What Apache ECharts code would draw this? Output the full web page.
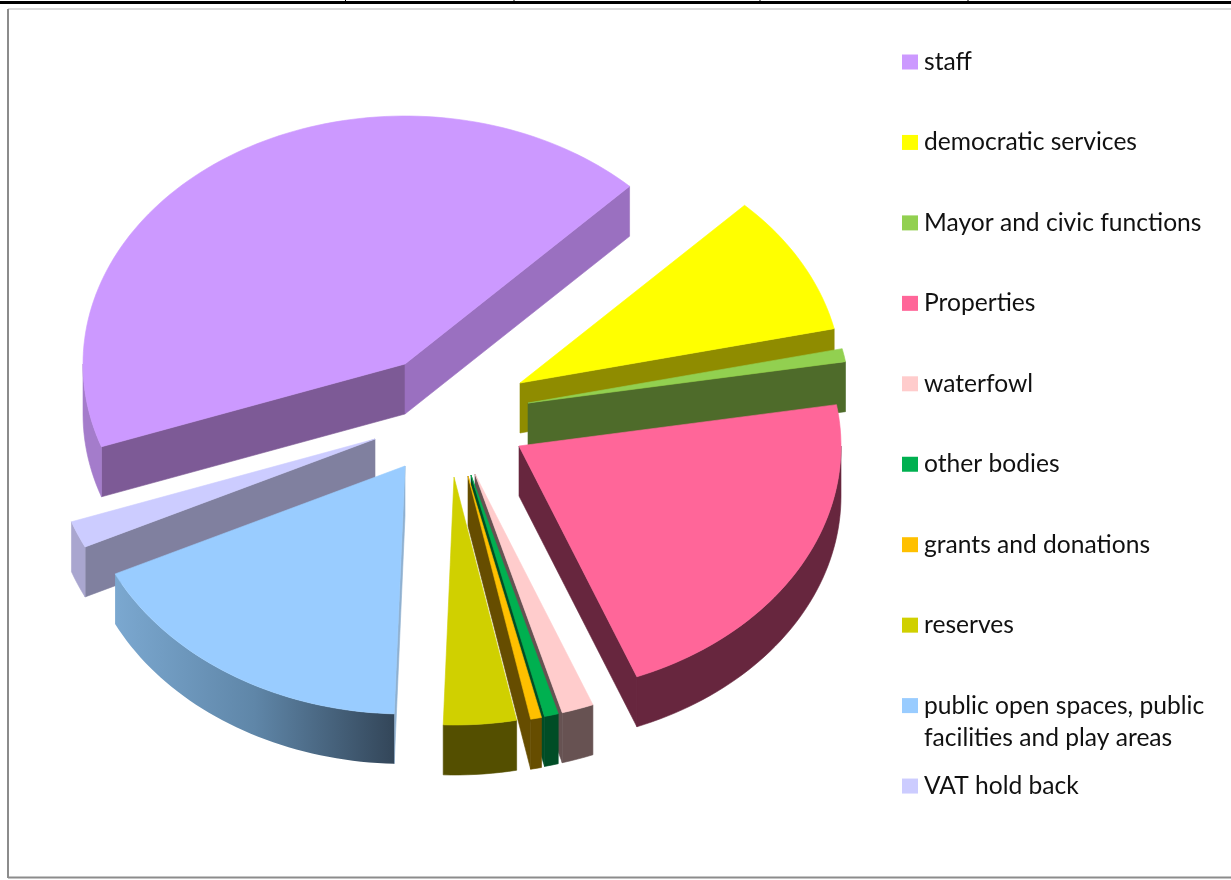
<!DOCTYPE html>
<html>
<head>
<meta charset="utf-8">
<style>html,body{margin:0;padding:0;background:#fff}#c{width:1231px;height:880px}</style>
<script src="https://cdn.jsdelivr.net/npm/echarts@6/dist/echarts.min.js"></script>
</head>
<body>
<div id="c"></div>
<script>
// Chart data (percent share of the budget)
const categories = ['staff','democratic services','Mayor and civic functions','Properties','waterfowl','other bodies','grants and donations','reserves','public open spaces, public\nfacilities and play areas','VAT hold back'];
const values = [42.7, 9.2, 0.85, 21.7, 1.6, 0.7, 0.55, 3.65, 17.3, 1.75];

// Styles
const topColors = ['#cc99ff','#ffff00','#92d050','#ff6699','#ffcccc','#00b050','#ffc000','#d0d000','#99ccff','#ccccff'];
const startWall = ['#7d5a96','#8f8c00','#4e6b2a','#67263e','#675252','#004d26','#664d00','#544f00','#8fb0d0','#80809f'];
const endWall   = ['#9a70c0','#8f8c00','#4e6b2a','#67263e','#675252','#004d26','#664d00','#544f00','#6f93b4','#80809f'];
const arcWall   = ['#a47ccb','#8f8c00','#4e6b2a','#67263e','#675252','#004d26','#664d00','#544f00','#5a7d9e','#a9a6cf'];
// Where each exploded slice's tip sits, and the pie's projection
const tips = [[405,364],[520,383],[528,403],[519,446],[475,474],[471,475],[468,476],[454,477],[405,466],[375,439]];
const paintZ = [1,2,3,4,5,6,7,8,10,9];
const RX = 322, RY = 248, DEPTH = 50, START_DEG = 250.5;

const total = values.reduce((a,b)=>a+b,0);
function angleRange(i){
  let a = START_DEG;
  for(let k=0;k<i;k++) a += values[k]/total*360;
  return [a, a + values[i]/total*360];
}
function pt(tip,deg,dy){
  const r = deg*Math.PI/180;
  return [tip[0]+RX*Math.sin(r), tip[1]-RY*Math.cos(r)+(dy||0)];
}
function arcPts(tip,a0,a1,dy){
  const n = Math.max(2,Math.ceil((a1-a0)/1.5)), out=[];
  for(let j=0;j<=n;j++) out.push(pt(tip,a0+(a1-a0)*j/n,dy));
  return out;
}
function poly(points,fill,stroke){
  return {type:'polygon',shape:{points:points},style:{fill:fill,stroke:stroke||fill,lineWidth:0.6}};
}
function makeRender(i){
  return function(params,api){
    const tip = tips[i];
    const [a0,a1] = angleRange(i);
    const kids = [];
    const tipLow = [tip[0],tip[1]+DEPTH];
    const sinOf = d => Math.sin(d*Math.PI/180);
    if(sinOf(a0) < 0) kids.push(poly([tip,pt(tip,a0),pt(tip,a0,DEPTH),tipLow],startWall[i]));
    if(sinOf(a1) > 0) kids.push(poly([tip,pt(tip,a1),pt(tip,a1,DEPTH),tipLow],endWall[i]));
    const turn = a0 >= 360 ? 360 : 0;
    const w0 = Math.max(a0-turn,90), w1 = Math.min(a1-turn,270);
    if(w1 > w0){
      const wall = arcPts(tip,w0,w1,0).concat(arcPts(tip,w0,w1,DEPTH).reverse());
      if(i === 8){
        const fade = new echarts.graphic.LinearGradient(0,0,1,0,[
          {offset:0,color:'#7ba8d0'},{offset:0.5,color:'#5f86a8'},{offset:1,color:'#334659'}
        ]);
        kids.push({type:'polygon',shape:{points:wall},style:{fill:fade}});
      } else {
        kids.push(poly(wall,arcWall[i]));
      }
    }
    kids.push(poly([tip].concat(arcPts(tip,a0,a1,0)),topColors[i]));
    return {type:'group',children:kids};
  };
}
const series = categories.map((name,i)=>({
  type:'custom', name:name, coordinateSystem:'none', silent:true, animation:false,
  z: paintZ[i]+1, itemStyle:{color:topColors[i]},
  data:[[values[i]]], renderItem:makeRender(i)
}));
const LEGEND_TOP = 46, LEGEND_STEP = 80.45, FONT = 24.6;
const legends = categories.map((name,i)=>{
  const two = name.indexOf('\n')>=0;
  return {
    left:902, top:(two?LEGEND_TOP-32:LEGEND_TOP)+i*LEGEND_STEP, orient:'vertical', padding:0,
    itemWidth:16, itemHeight:15, itemGap:0, icon:'rect', selectedMode:false,
    data:[name],
    formatter: two ? (n => '\n'+n) : undefined,
    textStyle:{fontFamily:'Lato',fontSize:FONT,color:'#111',lineHeight:32,padding:[0,0,0,1]}
  };
});
const line=(x1,y1,x2,y2,c,w)=>({type:'line',silent:true,shape:{x1,y1,x2,y2},style:{stroke:c,lineWidth:w}});
const graphics = [
  line(0,2.5,1231,2.5,'#000',3),
  line(345.5,0,345.5,4,'#000',1),line(514,0,514,4,'#000',1),line(760,0,760,4,'#000',1),line(968,0,968,4,'#000',1),
  line(8,9,1231,9,'#d9d9d9',2),
  line(8,9,8,878,'#8c8c8c',2),
  line(8,877.5,1231,877.5,'#8c8c8c',2)
];
const chart = echarts.init(document.getElementById('c'),null,{renderer:'canvas'});
chart.setOption({animation:false,backgroundColor:'#fff',legend:legends,series:series,graphic:{elements:graphics}});
</script>
</body>
</html>
